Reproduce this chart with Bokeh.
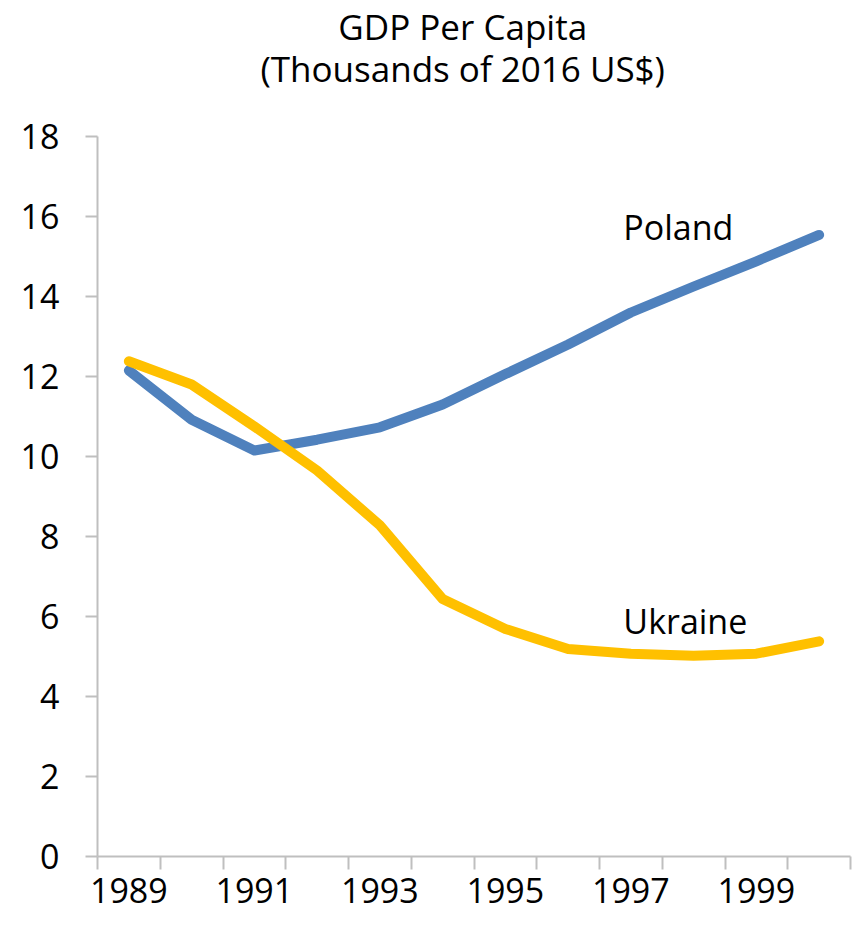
from bokeh.plotting import figure
from bokeh.models import Range1d, FixedTicker, Label
from bokeh.embed import file_html
from bokeh.resources import INLINE

years = list(range(1989, 2001))
poland = [12.15, 10.92, 10.15, 10.42, 10.73, 11.30, 12.06, 12.80, 13.60, 14.25, 14.88, 15.54]
ukraine = [12.38, 11.80, 10.75, 9.65, 8.28, 6.44, 5.69, 5.19, 5.07, 5.02, 5.07, 5.38]
label_years = [1989, 1991, 1993, 1995, 1997, 1999]
y_ticks = [0, 2, 4, 6, 8, 10, 12, 14, 16, 18]
title_lines = ["GDP Per Capita", "(Thousands of 2016 US$)"]

FONT = "Open Sans"
AXIS_COLOR = "#BFBFBF"
Y_MAX = 18      # top of the value axis
Y_TOP = 21.4    # headroom above the axis holds the two-line title

p = figure(width=852, height=912, output_backend="svg", toolbar_location=None,
           x_range=Range1d(1988.5, 2000.5), y_range=Range1d(0, Y_TOP),
           min_border_left=97, min_border_right=2, min_border_top=0, min_border_bottom=56)
p.outline_line_color = None
p.xgrid.visible = False
p.ygrid.visible = False
p.background_fill_color = "white"
p.border_fill_color = "white"

p.line(years, poland, line_color="#4F81BD", line_width=10, line_cap="round", line_join="round")
p.line(years, ukraine, line_color="#FFC000", line_width=10, line_cap="round", line_join="round")

bounds = [years[0] - 0.5] + [y + 0.5 for y in years]
xa = p.xaxis[0]
xa.ticker = FixedTicker(ticks=label_years, minor_ticks=bounds)
xa.axis_line_color = AXIS_COLOR
xa.axis_line_width = 2
xa.major_tick_line_color = None
xa.major_tick_out = 0
xa.major_tick_in = 0
xa.minor_tick_line_color = AXIS_COLOR
xa.minor_tick_line_width = 2
xa.minor_tick_out = 13
xa.minor_tick_in = 0
xa.major_label_standoff = 8
xa.major_label_text_font = FONT
xa.major_label_text_font_size = "34px"
xa.major_label_text_color = "black"

ya = p.yaxis[0]
ya.ticker = FixedTicker(ticks=y_ticks, minor_ticks=[])
ya.bounds = (0, Y_MAX)
ya.axis_line_color = AXIS_COLOR
ya.axis_line_width = 2
ya.major_tick_line_color = AXIS_COLOR
ya.major_tick_line_width = 2
ya.major_tick_out = 12
ya.major_tick_in = 0
ya.minor_tick_line_color = None
ya.major_label_standoff = 26
ya.major_label_text_font = FONT
ya.major_label_text_font_size = "34px"
ya.major_label_text_color = "black"

p.add_layout(Label(x=1996.88, y=15.73, text="Poland", text_font=FONT, text_font_size="34px",
                   text_baseline="alphabetic", text_align="left", text_color="black"))
p.add_layout(Label(x=1996.88, y=5.88, text="Ukraine", text_font=FONT, text_font_size="34px",
                   text_baseline="alphabetic", text_align="left", text_color="black"))

# two-line chart title, centred
p.add_layout(Label(x=1994.32, y=20.74, text=title_lines[0],
                   text_font=FONT, text_font_size="35px", text_align="center",
                   text_baseline="alphabetic", text_color="black"))
p.add_layout(Label(x=1994.32, y=19.69, text=title_lines[1],
                   text_font=FONT, text_font_size="35px", text_align="center",
                   text_baseline="alphabetic", text_color="black"))

open("out.html", "w").write(file_html(p, INLINE))
